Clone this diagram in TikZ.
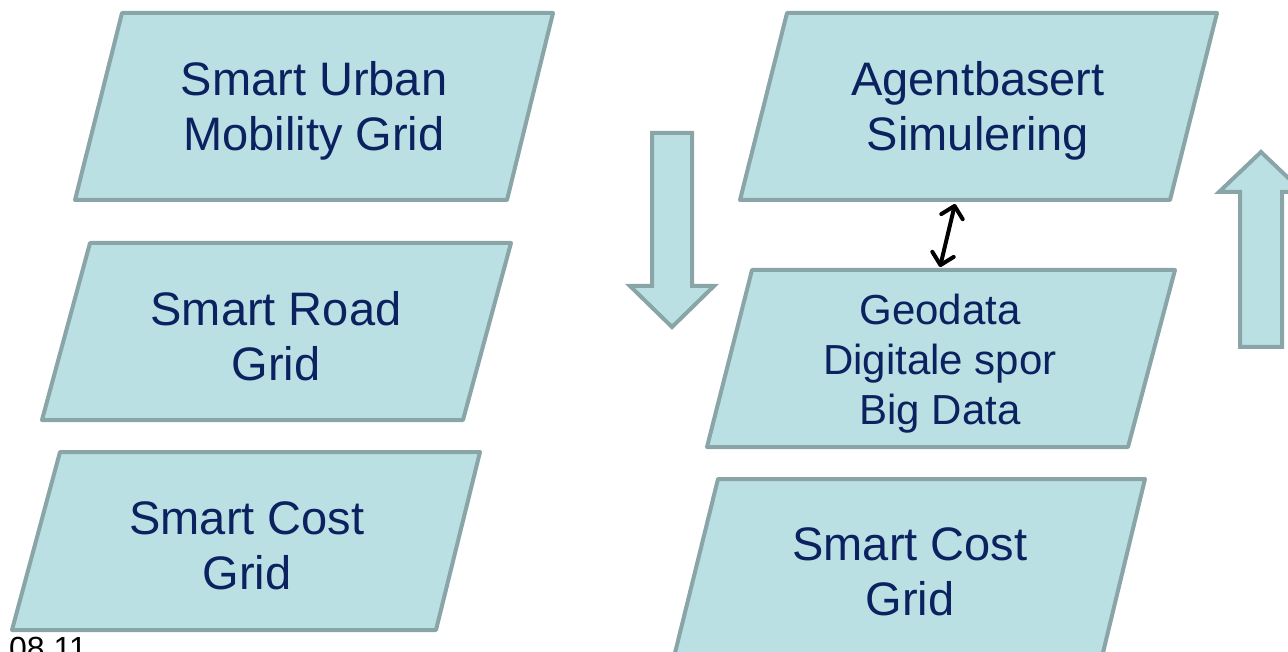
\documentclass[tikz,border=0pt]{standalone}
\usepackage{fontspec}
\setmainfont{Liberation Sans}
\usetikzlibrary{arrows.meta}
\definecolor{boxfill}{HTML}{BBE0E3}
\definecolor{boxline}{HTML}{8AA5A8}
\definecolor{navy}{HTML}{0B2160}
\tikzset{
  pgram/.style={fill=boxfill, draw=boxline, line width=4pt, line join=round},
  bigtxt/.style={text=navy, align=center, font=\fontsize{47}{55}\selectfont},
  midtxt/.style={text=navy, align=center, font=\fontsize{42}{50}\selectfont},
  blockarrow/.style={fill=boxfill, draw=boxline, line width=4pt, line join=miter},
  dbl/.style={line width=4pt, line cap=round, {Straight Barb[length=11pt,width=22pt,line cap=round,line join=round]}-{Straight Barb[length=11pt,width=22pt,line cap=round,line join=round]}}
}
\begin{document}
\begin{tikzpicture}[x=1pt,y=-1pt]
\useasboundingbox (0,0) rectangle (1288,652);
\begin{scope}
\clip (0,0) rectangle (1288,652);
% left column
\draw[pgram] (122,13) -- (553,13) -- (507,200) -- (75,200) -- cycle;
\draw[pgram] (90,243) -- (511,243) -- (463,420) -- (42,420) -- cycle;
\draw[pgram] (60,452) -- (480,452) -- (436,630) -- (12,630) -- cycle;
% right column
\draw[pgram] (787,13) -- (1217,13) -- (1170,200) -- (740,200) -- cycle;
\draw[pgram] (752,270) -- (1175,270) -- (1128,447) -- (707,447) -- cycle;
\draw[pgram] (718,479) -- (1145,479) -- (1100,665) -- (672,665) -- cycle;
% block arrows
\draw[blockarrow] (652,133) -- (692,133) -- (692,286) -- (714,286) -- (672,327) -- (630,286) -- (652,286) -- cycle;
\draw[blockarrow] (1240,347) -- (1282,347) -- (1282,192) -- (1303,192) -- (1261,152) -- (1219,192) -- (1240,192) -- cycle;
\end{scope}
\node[bigtxt] (umg) at (314,111) {Smart Urban\\Mobility Grid};
\node[bigtxt] (road) at (276,336) {Smart Road\\Grid};
\node[bigtxt] (costl) at (247,546) {Smart Cost\\Grid};
\node[bigtxt] (agent) at (978,111) {Agentbasert\\Simulering};
\node[midtxt] (geo) at (940,364) {Geodata\\Digitale spor\\Big Data};
\node[bigtxt] (costr) at (910,572) {Smart Cost\\Grid};
\coordinate (atop) at (955,204);
\coordinate (abot) at (940,267);
\draw[dbl] (abot) -- (atop);
\node[anchor=base west, inner sep=0pt, font=\fontsize{32}{38}\selectfont] (date) at (9,659) {08.11};
\end{tikzpicture}
\end{document}
